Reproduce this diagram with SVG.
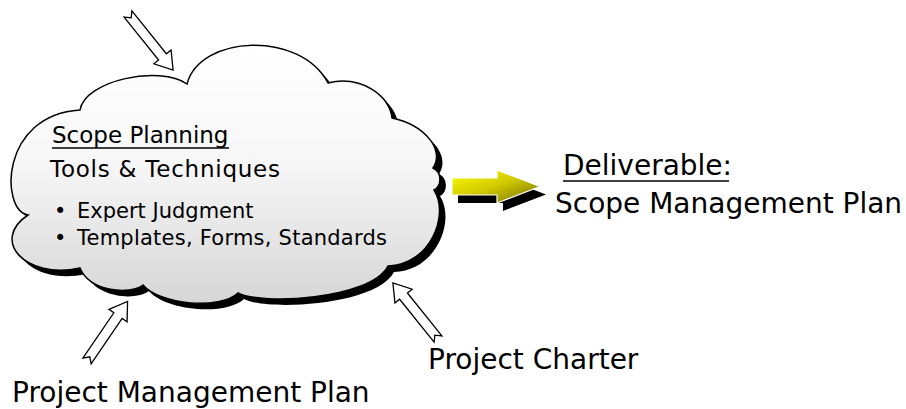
<svg xmlns="http://www.w3.org/2000/svg" width="906" height="409" viewBox="0 0 906 409">
<style>
text{font-family:"DejaVu Sans","Liberation Sans",sans-serif;fill:#000}
.in{font-size:23px}
.bl{font-size:21px}
.big{font-size:28px}
.hollow{fill:#fff;stroke:#000;stroke-width:1.3;stroke-linejoin:miter}
.ul{stroke:#000;stroke-width:1.6}
</style>
<defs>
<linearGradient id="cg" x1="0" y1="0" x2="0" y2="1">
<stop offset="0" stop-color="#ffffff"/>
<stop offset="0.45" stop-color="#f7f7f7"/>
<stop offset="1" stop-color="#d6d6d6"/>
</linearGradient>
<linearGradient id="yg" x1="0" y1="0" x2="1" y2="1">
<stop offset="0" stop-color="#ffff00"/>
<stop offset="0.5" stop-color="#cfc800"/>
<stop offset="1" stop-color="#6e6a00"/>
</linearGradient>
<path id="cloudp" d="M80,110 C85,80 160,65 187,84 C200,35 300,30 328,83 C360,75 390,95 392,118 C425,125 445,150 433,168 C442,172 442,186 434,190 C450,215 430,265 388,266 C370,300 260,305 238,293 C220,310 160,305 143,285 C130,295 90,292 80,268 C25,280 -10,240 28,215 C0,210 0,115 80,110 Z"/>
<path id="harrow" d="M0,-5 L55,-5 L55,-11 L72,0 L55,11 L55,5 L0,5 L5,0 Z"/>
</defs>

<g id="cloud">
<use href="#cloudp" transform="translate(6,6)" fill="#000"/>
<use href="#cloudp" fill="url(#cg)" stroke="#000" stroke-width="1.5"/>
<text class="in" x="52" y="143">Scope Planning</text>
<line class="ul" x1="52" y1="148" x2="229" y2="148"/>
<text class="in" x="50" y="177" textLength="230">Tools &amp; Techniques</text>
<text class="bl" x="54" y="218">•</text>
<text class="bl" x="77" y="218">Expert Judgment</text>
<text class="bl" x="54" y="245">•</text>
<text class="bl" x="77" y="245" textLength="310">Templates, Forms, Standards</text>
</g>

<g id="connectors">
<use href="#harrow" class="hollow" transform="translate(128,14) rotate(51.2)"/>
<use href="#harrow" class="hollow" transform="translate(87,361) rotate(-55.7)"/>
<use href="#harrow" class="hollow" transform="translate(438,339) rotate(-128.8)"/>
<g id="deliverable-arrow">
<polygon points="458,186 503,186 503,178 546,194.5 503,211 503,203 458,203" fill="#000"/>
<polygon points="452,178 497,178 497,170 540,186.5 497,203 497,195 452,195" fill="url(#yg)" stroke="#fff" stroke-width="1.2"/>
</g>
</g>

<g id="deliverable">
<text class="big" x="563" y="175">Deliverable:</text>
<line class="ul" x1="563" y1="181" x2="729" y2="181"/>
<text class="big" x="555" y="213">Scope Management Plan</text>
</g>

<g id="project-charter">
<text class="big" x="428" y="369">Project Charter</text>
</g>

<g id="project-management-plan">
<text class="big" x="12" y="402">Project Management Plan</text>
</g>
</svg>
